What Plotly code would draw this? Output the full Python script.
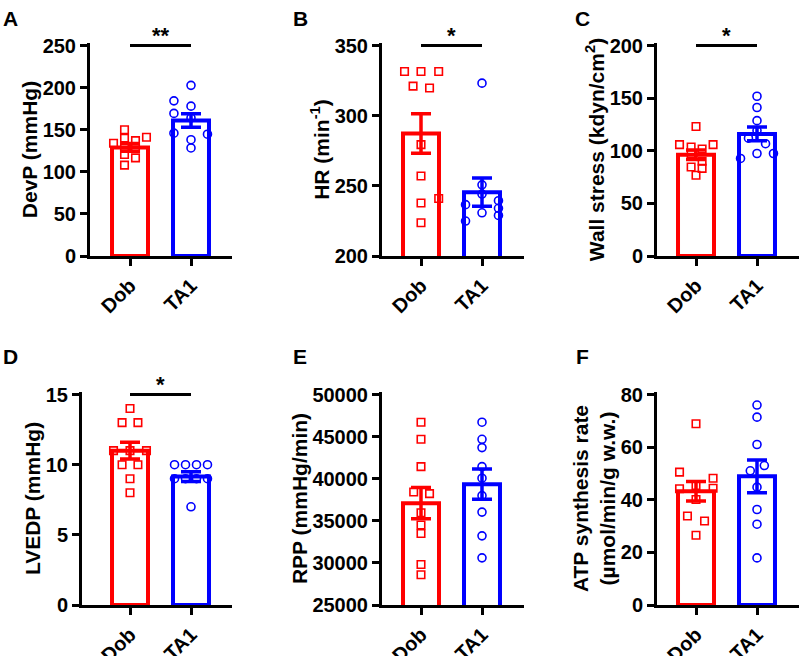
import plotly.graph_objects as go

categories = ["Dob", "TA1"]

# A - DevP (mmHg)
devp_dob = [150, 134, 140, 137, 141, 130, 127.6, 120.5, 108, 116.6]
devp_ta1 = [202.7, 184.3, 178, 169.4, 164, 145.9, 144.7, 138.1, 128.3]
devp_dob_dx = [-0.09, -0.27, -0.09, 0.09, 0.27, -0.09, 0.09, -0.09, -0.09, 0.09]
devp_ta1_dx = [0, -0.28, 0, -0.28, 0, -0.28, 0.27, 0, 0]
devp_mean = [129, 161]
devp_sem = [4.5, 8]

# B - HR
hr_dob = [331.5, 331.5, 331.5, 321.1, 319.7, 279.4, 257, 241, 237.8, 223.7]
hr_ta1 = [323.2, 250.7, 244.1, 236.6, 224.9, 230.8, 239.4, 234, 228.9]
hr_dob_dx = [-0.27, 0, 0.29, -0.13, 0.14, 0, 0, 0.29, 0, 0]
hr_ta1_dx = [0, 0, 0, -0.27, -0.27, 0, 0.27, 0.27, 0.27]
hr_mean = [287.3, 245.5]
hr_sem = [14, 10]

# C - Wall stress
ws_dob = [123, 105.8, 105.8, 103.6, 101.7, 97, 90.1, 84.5, 83.3, 76.7]
ws_ta1 = [151.8, 141.1, 128.6, 119.2, 112, 106.7, 97.4, 92.7, 97.4]
ws_dob_dx = [0, -0.27, 0.28, -0.08, 0.1, -0.08, 0.1, -0.08, 0.1, 0]
ws_ta1_dx = [0, 0, 0, 0, -0.14, 0.14, 0, -0.27, 0.27]
ws_mean = [96.3, 116]
ws_sem = [4.5, 6.5]

# D - LVEDP
lv_dob = [14, 13, 13, 11, 11, 11, 10, 10, 9, 8]
lv_ta1 = [10, 10, 10, 10, 9, 9, 9, 9, 7]
lv_dob_dx = [0, -0.13, 0.13, -0.27, 0, 0.27, -0.13, 0.13, 0, 0]
lv_ta1_dx = [-0.27, -0.09, 0.09, 0.27, -0.27, -0.09, 0.09, 0.27, 0]
lv_mean = [11.0, 9.15]
lv_sem = [0.6, 0.35]

# E - RPP
rpp_dob = [46714, 44683, 41432, 38416, 38225, 35951, 34507, 33486, 29812, 28601]
rpp_ta1 = [46714, 44683, 43697, 41432, 40059, 37989, 36033, 33216, 30599]
rpp_dob_dx = [0, 0, 0, -0.12, 0.14, 0, 0, 0, 0, 0]
rpp_ta1_dx = [0, 0, 0, 0, 0, 0, 0, 0, 0]
rpp_mean = [37100, 39350]
rpp_sem = [1850, 1800]

# F - ATP synthesis rate
atp_dob = [68.9, 50.5, 48.2, 44.2, 44.4, 45.4, 40.1, 33.8, 31.9, 26.5]
atp_ta1 = [76, 71.4, 61, 51, 53, 44.8, 36.3, 30.7, 17.9]
atp_dob_dx = [0, -0.27, 0.28, -0.27, 0.28, 0, 0, -0.14, 0.14, 0]
atp_ta1_dx = [0, 0, 0, -0.11, 0.12, 0, 0, 0, 0]
atp_mean = [43.2, 48.9]
atp_sem = [3.7, 6.2]

RED = "#FF0000"
BLUE = "#0000FF"
FONT = "Arial, Liberation Sans, sans-serif"
W, H = 800, 656
STEP = 61  # px between categories

# letter, ytitle, data, y range, ticks, significance, (left, right, top, bottom, dob centre) in px, letter pos px
panels = [
    ("A", "DevP (mmHg)", devp_dob, devp_ta1, devp_dob_dx, devp_ta1_dx, devp_mean, devp_sem,
     (0, 250), 50, "**", (90, 232, 43, 256, 130), (1, 5)),
    ("B", "HR (min<sup>-1</sup>)", hr_dob, hr_ta1, hr_dob_dx, hr_ta1_dx, hr_mean, hr_sem,
     (200, 350), 50, "*", (382, 524, 43, 256, 421), (291, 5)),
    ("C", "Wall stress (kdyn/cm<sup>2</sup>)", ws_dob, ws_ta1, ws_dob_dx, ws_ta1_dx, ws_mean, ws_sem,
     (0, 200), 50, "*", (657, 799, 43, 256, 696), (573, 5)),
    ("D", "LVEDP (mmHg)", lv_dob, lv_ta1, lv_dob_dx, lv_ta1_dx, lv_mean, lv_sem,
     (0, 15), 5, "*", (82, 232, 392, 605, 130), (1, 343)),
    ("E", "RPP (mmHg/min)", rpp_dob, rpp_ta1, rpp_dob_dx, rpp_ta1_dx, rpp_mean, rpp_sem,
     (25000, 50000), 5000, "", (382, 524, 392, 605, 421), (291, 343)),
    ("F", "ATP synthesis rate<br>(µmol/min/g w.w.)", atp_dob, atp_ta1, atp_dob_dx, atp_ta1_dx, atp_mean, atp_sem,
     (0, 80), 20, "", (657, 799, 392, 605, 696), (574, 343)),
]

fig = go.Figure()
layout = {}
annotations = []

for k, (letter, ytitle, dob, ta1, dob_dx, ta1_dx, mean, sem, yr, dtick, sig, box, lpos) in enumerate(panels):
    n = "" if k == 0 else str(k + 1)
    xa, ya = "x" + n, "y" + n
    left, right, top, bottom, c = box
    ymax = yr[1] + (yr[1] - yr[0]) * 0.012

    for i, (vals, dx, col, sym) in enumerate([(dob, dob_dx, RED, "square-open"),
                                             (ta1, ta1_dx, BLUE, "circle-open")]):
        fig.add_trace(go.Bar(
            x=[i], y=[mean[i]], width=0.59, xaxis=xa, yaxis=ya,
            marker=dict(color="rgba(0,0,0,0)", line=dict(color=col, width=4)),
            error_y=dict(type="data", array=[sem[i]], color=col, thickness=3.5, width=10),
            showlegend=False, hoverinfo="skip"))
        fig.add_trace(go.Scatter(
            x=[i + d for d in dx], y=vals, mode="markers", xaxis=xa, yaxis=ya,
            marker=dict(symbol=sym, size=8 if sym == "circle-open" else 7.5, color=col,
                        line=dict(width=1.6, color=col)),
            cliponaxis=False, showlegend=False))

    layout["xaxis" + n] = dict(
        domain=[left / W, right / W], anchor=ya, automargin=False,
        range=[(left - c) / STEP, (right - c) / STEP],
        tickvals=[0, 1], ticktext=categories, tickangle=-45,
        showline=True, linecolor="black", linewidth=3,
        ticks="outside", ticklen=7, tickwidth=3, tickcolor="black",
        showgrid=False, zeroline=False,
        tickfont=dict(family=FONT, size=20, color="black", weight="bold"))
    layout["yaxis" + n] = dict(
        domain=[1 - bottom / H, 1 - top / H], anchor=xa, automargin=False,
        range=[yr[0], ymax], tick0=yr[0], dtick=dtick, tickformat="d",
        showline=True, linecolor="black", linewidth=3,
        ticks="outside", ticklen=7, tickwidth=3, tickcolor="black",
        showgrid=False, zeroline=False,
        tickfont=dict(family=FONT, size=20, color="black", weight="bold"),
        title=dict(text=ytitle, standoff=0,
                   font=dict(family=FONT, size=21, color="black", weight="bold")))

    if sig:
        fig.add_trace(go.Scatter(
            x=[0, 1], y=[yr[1], yr[1]], mode="lines", xaxis=xa, yaxis=ya,
            line=dict(color="black", width=3), showlegend=False, hoverinfo="skip"))
        annotations.append(dict(
            x=0.5, y=yr[1], xref=xa, yref=ya, text=sig, showarrow=False,
            yanchor="bottom", yshift=-4,
            font=dict(family=FONT, size=22, color="black", weight="bold")))

    annotations.append(dict(
        x=lpos[0] / W, y=1 - lpos[1] / H,
        xref="paper", yref="paper", text=letter, showarrow=False,
        xanchor="left", yanchor="top",
        font=dict(family=FONT, size=21, color="black", weight="bold")))

fig.update_layout(
    template="none",
    width=W, height=H, margin=dict(l=0, r=0, t=0, b=0),
    plot_bgcolor="white", paper_bgcolor="white",
    annotations=annotations, **layout)

# the page body has a default 8px margin; drop it so the figure sits at the window's corner
fig.write_html("out.html", config={"displayModeBar": False},
               post_script="document.body.style.margin='0';")
